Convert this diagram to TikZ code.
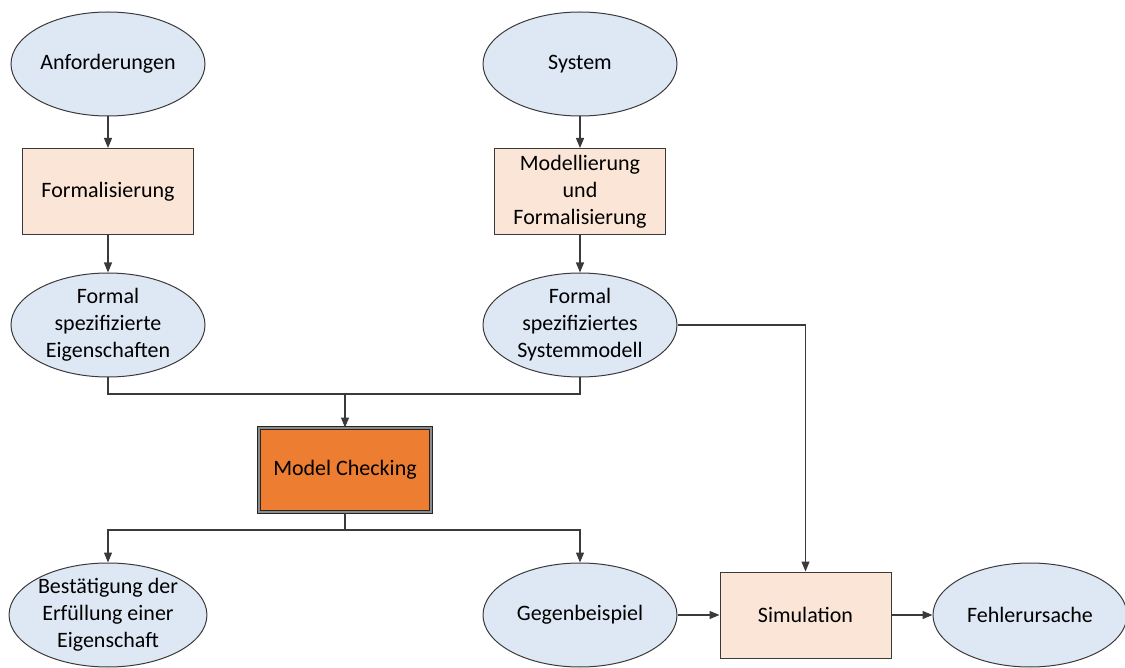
\documentclass[tikz,border=0pt]{standalone}
\usepackage{fontspec}
\setmainfont{Carlito}
\usetikzlibrary{shapes.geometric,arrows.meta}
\definecolor{ellfill}{HTML}{DEE8F5}
\definecolor{boxfill}{HTML}{FBE5D6}
\definecolor{mcfill}{HTML}{ED7D31}
\definecolor{edge}{HTML}{3A3A3A}
\begin{document}
\begin{tikzpicture}[x=1pt,y=-1pt,
  every node/.style={font=\fontsize{22}{27}\selectfont, text=black, align=center},
  ell/.style={ellipse, draw=edge, fill=ellfill, line width=1pt, inner sep=0pt,
    minimum width=194, minimum height=104},
  procbox/.style={rectangle, draw=edge, fill=boxfill, line width=1pt, inner sep=0pt,
    minimum width=171, minimum height=86},
  mcbox/.style={rectangle, draw=black!85, double=gray!90, double distance=2pt,
    line width=1pt, fill=mcfill, inner sep=0pt, minimum width=172, minimum height=84},
  conn/.style={draw=edge, line width=1.2pt},
  arr/.style={conn, -{Triangle[length=10pt,width=8pt]}}
]
\useasboundingbox (0,0) rectangle (1125,668);

% left column
\node[ell] (anf) at (108,64) {Anforderungen};
\node[procbox] (form) at (108,191.5) {Formalisierung};
\node[ell] (eig) at (108,325) {Formal\\spezifizierte\\Eigenschaften};

% right column
\node[ell] (sys) at (580,64) {System};
\node[procbox] (mod) at (580,191.5) {Modellierung\\und\\Formalisierung};
\node[ell] (sysm) at (580,325) {Formal\\spezifiziertes\\Systemmodell};

% model checking
\node[mcbox] (mc) at (345,470) {Model Checking};

% results
\node[ell] (best) at (108,615) {Bestätigung der\\Erfüllung einer\\Eigenschaft};
\node[ell] (geg) at (580,615) {Gegenbeispiel};
\node[procbox] (sim) at (805.5,615) {Simulation};
\node[ell] (fehl) at (1030,615) {Fehlerursache};

% branch points
\coordinate (join) at (345,394);
\coordinate (split) at (345,530);

% connectors
\draw[arr] (anf) -- (form);
\draw[arr] (form) -- (eig);
\draw[arr] (sys) -- (mod);
\draw[arr] (mod) -- (sysm);
\draw[conn] (eig.south) |- (join);
\draw[conn] (sysm.south) |- (join);
\draw[arr] (join) -- (mc.north);
\draw[conn] (mc.south) -- (split);
\draw[arr] (split) -| (best.north);
\draw[arr] (split) -| (geg.north);
\draw[arr] (sysm.east) -| (sim.north);
\draw[arr] (geg) -- (sim);
\draw[arr] (sim) -- (fehl);
\end{tikzpicture}
\end{document}
